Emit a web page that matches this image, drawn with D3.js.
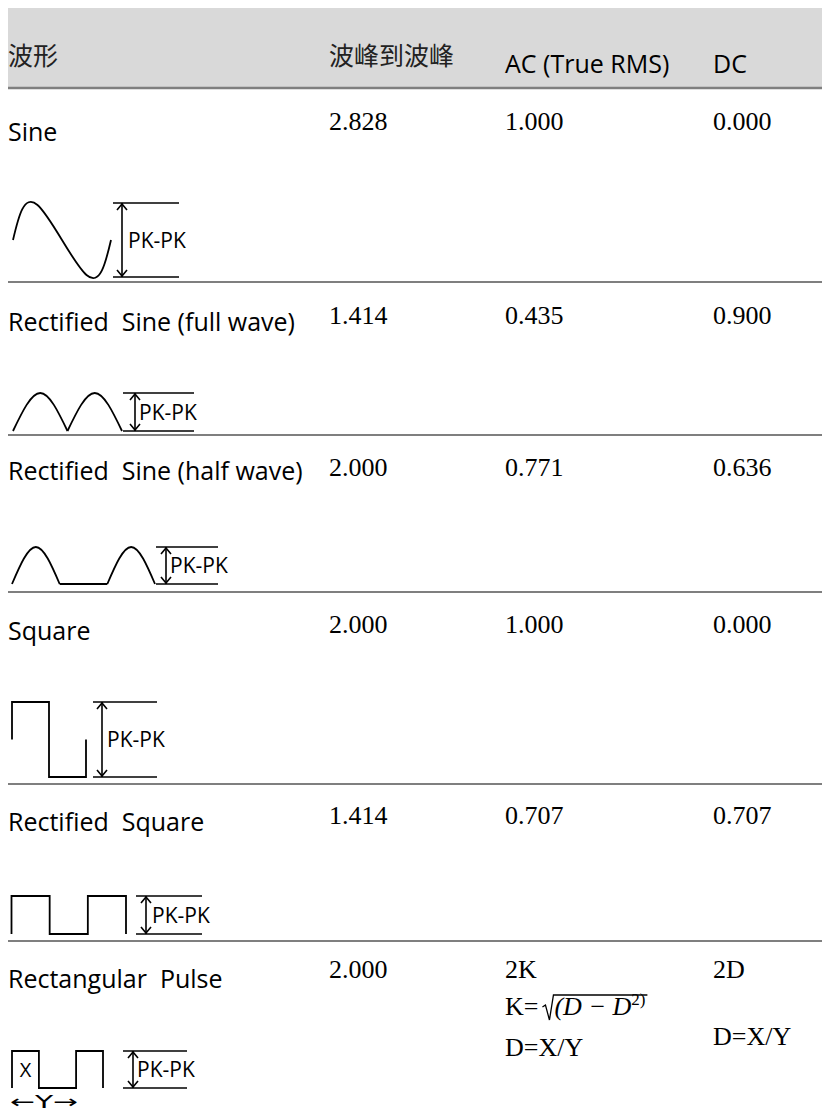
<!DOCTYPE html>
<html>
<head>
<meta charset="utf-8">
<script src="https://cdn.jsdelivr.net/npm/d3@7"></script>
<style>
    body { margin: 0; background: #fff; }
    svg text { white-space: pre; }
</style>
</head>
<body>
<div id="chart"></div>
<script>
// ---- table content ----
const headers = ['波形', '波峰到波峰', 'AC (True RMS)', 'DC'];
const waveNames = ['Sine', 'Rectified  Sine (full wave)', 'Rectified  Sine (half wave)',
    'Square', 'Rectified  Square', 'Rectangular  Pulse'];
const peakToPeak = ['2.828', '1.414', '2.000', '2.000', '1.414', '2.000'];
const acRms = ['1.000', '0.435', '0.771', '1.000', '0.707', '2K'];
const dcValues = ['0.000', '0.900', '0.636', '0.000', '0.707', '2D'];
const pulseNotes = { kFormula: 'K=', kRadicand: '(D \u2212 D', kPower: '2)', duty: 'D=X/Y' };
const markerText = 'PK-PK';

// ---- waveform shapes: [x in periods, level] ----
const sineShape = [[0, 0], [0.25, 1], [0.75, -1], [1, 0]];
const fullWaveHumps = [[[0, 0], [0.5, 1], [1, 0]], [[1, 0], [1.5, 1], [2, 0]]];
const halfWaveHumps = [[[0, 0], [0.5, 1], [1, 0]], [[2, 0], [2.5, 1], [3, 0]]];
const halfWaveFlat = [[1, 0], [2, 0]];
const squareShape = [[0, 0], [0, 1], [1, 1], [1, -1], [2, -1], [2, 0]];
const rectSquareShape = [[0, 0], [0, 1], [1, 1], [1, 0], [2, 0], [2, 1], [3, 1], [3, 0]];
const pulseShape = [[0, 0], [0, 1], [0.42, 1], [0.42, 0], [1, 0], [1, 1], [1.42, 1], [1.42, 0]];

// ---- layout ----
const width = 822, height = 1118;
const colX = [8, 329, 505, 713];
const headerBox = { top: 8, bottom: 88 };
const rows = [
    { top: 88, label: 141, value: 130, box: [13, 111, 205, 275], pk: [113, 179, 203, 277], arrow: 122, pkX: 128, pkSize: 21,
      xDomain: [0, 1], yDomain: [-1, 1] },
    { top: 282, label: 331, value: 324, box: [13, 122, 393, 431], pk: [123, 194, 393, 431], arrow: 135, pkX: 139, pkSize: 21,
      xDomain: [0, 2], yDomain: [0, 1] },
    { top: 435, label: 480, value: 476, box: [12, 155, 547, 584], pk: [156, 218, 547, 584], arrow: 166, pkX: 170, pkSize: 21,
      xDomain: [0, 3], yDomain: [0, 1] },
    { top: 592, label: 640, value: 633, box: [12, 86, 702, 777], pk: [93, 157, 702, 777], arrow: 102, pkX: 107, pkSize: 21,
      xDomain: [0, 2], yDomain: [-1, 1] },
    { top: 784, label: 831, value: 824, box: [11.5, 126, 896, 934], pk: [136, 202, 896, 934], arrow: 146, pkX: 152, pkSize: 21,
      xDomain: [0, 3], yDomain: [0, 1] },
    { top: 941, label: 988, value: 978, box: [12, 103, 1051, 1088], pk: [123, 187, 1051, 1088], arrow: 133, pkX: 137, pkSize: 21,
      xDomain: [0, 1.42], yDomain: [0, 1] }
];

const sansFont = "'Open Sans', 'Noto Sans', sans-serif";
const cjkFont = "'Noto Sans CJK SC', 'Noto Sans CJK TC', sans-serif";
const serifFont = "'Liberation Serif', 'DejaVu Serif', serif";
const ruleColor = '#7f7f7f';

const svg = d3.select('#chart').append('svg')
    .attr('width', width)
    .attr('height', height);

// header band
svg.append('rect')
    .attr('x', colX[0])
    .attr('y', headerBox.top)
    .attr('width', width - colX[0])
    .attr('height', headerBox.bottom - headerBox.top)
    .attr('fill', '#d9d9d9');

svg.selectAll('text.header')
    .data(headers)
    .enter()
    .append('text')
    .attr('class', 'header')
    .attr('x', (d, i) => colX[i])
    .attr('y', (d, i) => i < 2 ? 65 : 73)
    .attr('font-family', (d, i) => i < 2 ? cjkFont : sansFont)
    .attr('font-size', 25)
    .attr('fill', (d, i) => i < 2 ? '#222' : '#000')
    .text(d => d);

// row rules (header bottom included)
svg.selectAll('line.rule')
    .data(rows)
    .enter()
    .append('line')
    .attr('class', 'rule')
    .attr('x1', colX[0])
    .attr('x2', width)
    .attr('y1', d => d.top)
    .attr('y2', d => d.top)
    .attr('stroke', ruleColor)
    .attr('stroke-width', (d, i) => i === 0 ? 2.5 : 2);

// wave names
svg.selectAll('text.name')
    .data(waveNames)
    .enter()
    .append('text')
    .attr('class', 'name')
    .attr('x', colX[0])
    .attr('y', (d, i) => rows[i].label)
    .attr('font-family', sansFont)
    .attr('font-size', 25)
    .attr('fill', '#000')
    .text(d => d);

// value columns
[peakToPeak, acRms, dcValues].forEach((values, c) => {
    svg.selectAll(`text.val${c}`)
        .data(values)
        .enter()
        .append('text')
        .attr('class', `val${c}`)
        .attr('x', colX[c + 1])
        .attr('y', (d, i) => rows[i].value)
        .attr('font-family', serifFont)
        .attr('font-size', 26)
        .attr('fill', '#000')
        .text(d => d);
});

// extra formula lines for the pulse row
const pulseRow = rows[5];
const radBase = pulseRow.value + 37;
const kText = svg.append('text')
    .attr('x', colX[2])
    .attr('y', radBase)
    .attr('font-family', serifFont)
    .attr('font-size', 26)
    .text(pulseNotes.kFormula);
const kEnd = colX[2] + kText.node().getComputedTextLength();
const radicand = svg.append('text')
    .attr('x', kEnd + 16)
    .attr('y', radBase)
    .attr('font-family', serifFont)
    .attr('font-size', 26)
    .attr('font-style', 'italic');
radicand.append('tspan').text(pulseNotes.kRadicand);
radicand.append('tspan')
    .attr('font-size', 17)
    .attr('font-style', 'normal')
    .attr('dy', -10)
    .text(pulseNotes.kPower);
const radEnd = kEnd + 16 + radicand.node().getComputedTextLength();
svg.append('path')
    .attr('d', d3.line()([[kEnd + 4, radBase - 8], [kEnd + 7, radBase - 10], [kEnd + 11, radBase + 5],
        [kEnd + 15, radBase - 20], [radEnd + 2, radBase - 20]]))
    .attr('fill', 'none')
    .attr('stroke', '#000')
    .attr('stroke-width', 1.3);
svg.append('text')
    .attr('x', colX[2])
    .attr('y', pulseRow.value + 78)
    .attr('font-family', serifFont)
    .attr('font-size', 26)
    .text(pulseNotes.duty);
svg.append('text')
    .attr('x', colX[3])
    .attr('y', pulseRow.value + 67)
    .attr('font-family', serifFont)
    .attr('font-size', 26)
    .text(pulseNotes.duty);

// ---- waveform icons ----
function iconScales(row) {
    const x = d3.scaleLinear().domain(row.xDomain).range([row.box[0], row.box[1]]);
    const y = d3.scaleLinear().domain(row.yDomain).range([row.box[3], row.box[2]]);
    return { x, y };
}

function drawPath(points, row, curve) {
    const s = iconScales(row);
    const line = d3.line()
        .x(d => s.x(d[0]))
        .y(d => s.y(d[1]))
        .curve(curve);
    svg.append('path')
        .attr('d', line(points))
        .attr('fill', 'none')
        .attr('stroke', '#000')
        .attr('stroke-width', 1.8)
        .attr('stroke-linejoin', 'miter');
}

drawPath(sineShape, rows[0], d3.curveNatural);
fullWaveHumps.forEach(h => drawPath(h, rows[1], d3.curveNatural));
halfWaveHumps.forEach(h => drawPath(h, rows[2], d3.curveNatural));
drawPath(halfWaveFlat, rows[2], d3.curveLinear);
drawPath(squareShape, rows[3], d3.curveLinear);
drawPath(rectSquareShape, rows[4], d3.curveLinear);
drawPath(pulseShape, rows[5], d3.curveLinear);

// pulse annotations
const ps = iconScales(pulseRow);
svg.append('text')
    .attr('x', (ps.x(0) + ps.x(pulseShape[2][0])) / 2)
    .attr('y', (ps.y(0) + ps.y(1)) / 2 + 7)
    .attr('text-anchor', 'middle')
    .attr('font-family', sansFont)
    .attr('font-size', 20)
    .text('X');
svg.append('text')
    .attr('x', ps.x(0) - 2)
    .attr('y', ps.y(0) + 20)
    .attr('font-family', "'DejaVu Sans', sans-serif")
    .attr('font-size', 18)
    .attr('textLength', ps.x(1) - ps.x(0) + 4)
    .attr('lengthAdjust', 'spacingAndGlyphs')
    .text('\u2190Y\u2192');

// PK-PK markers
rows.forEach(row => {
    const [x0, x1, top, bottom] = row.pk;
    const g = svg.append('g')
        .attr('fill', 'none')
        .attr('stroke', '#000')
        .attr('stroke-width', 1.6);
    g.append('line').attr('x1', x0).attr('x2', x1).attr('y1', top).attr('y2', top);
    g.append('line').attr('x1', x0).attr('x2', x1).attr('y1', bottom).attr('y2', bottom);
    g.append('line').attr('x1', row.arrow).attr('x2', row.arrow).attr('y1', top).attr('y2', bottom);
    g.append('path').attr('d', `M${row.arrow - 5},${top + 7}L${row.arrow},${top + 1}L${row.arrow + 5},${top + 7}`);
    g.append('path').attr('d', `M${row.arrow - 5},${bottom - 7}L${row.arrow},${bottom - 1}L${row.arrow + 5},${bottom - 7}`);
    svg.append('text')
        .attr('x', row.pkX)
        .attr('y', (top + bottom) / 2 + row.pkSize * 0.36)
        .attr('font-family', sansFont)
        .attr('font-size', row.pkSize)
        .text(markerText);
});
</script>
</body>
</html>
